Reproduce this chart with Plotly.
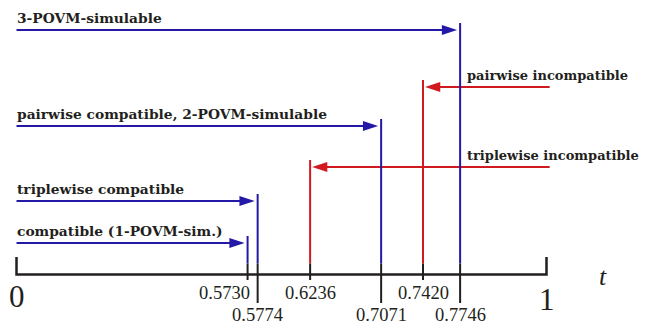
import plotly.graph_objects as go

# ---- data ----
threshold_labels = ["0.5730", "0.5774", "0.6236", "0.7071", "0.7420", "0.7746"]
# position of each threshold along the drawn (schematic) t axis, 0 -> 1
threshold_pos = [0.436, 0.455, 0.554, 0.688, 0.767, 0.837]
region_labels = [
    "compatible (1-POVM-sim.)",
    "triplewise compatible",
    "triplewise incompatible",
    "pairwise compatible, 2-POVM-simulable",
    "pairwise incompatible",
    "3-POVM-simulable",
]
region_kind = ["compatible", "compatible", "incompatible", "compatible", "incompatible", "compatible"]
axis_end_labels = ["0", "1"]
axis_end_values = [0, 1]
axis_title = "t"

# ---- layout / style ----
arrow_level = [31.5, 73.5, 107.5, 148.5, 187.5, 244.5]   # height of each arrow above the axis
label_row = [1, 2, 1, 2, 1, 2]                             # row of the tick label below the axis
label_anchor = ["right", "center", "center", "center", "center", "center"]
BLUE = "#2419a6"
RED = "#d11a20"
BLACK = "#231f20"
colors = {"compatible": BLUE, "incompatible": RED}
red_start = 1.006
red_label_x = 0.85
BLUE_FONT = dict(family="DejaVu Serif", size=13.8, color=BLACK, weight="bold")
RED_FONT = dict(family="DejaVu Serif", size=13, color=BLACK, weight="bold")

fig = go.Figure()

# main axis line and end ticks
fig.add_trace(go.Scatter(x=[axis_end_values[0], axis_end_values[0], axis_end_values[1], axis_end_values[1]],
                         y=[17.5, 0, 0, 17.5], mode="lines",
                         line=dict(color=BLACK, width=2.5), hoverinfo="skip"))

for lab, pos, reg, kind, lvl, row, anc in zip(threshold_labels, threshold_pos, region_labels,
                                              region_kind, arrow_level, label_row, label_anchor):
    c = colors[kind]
    # colored vertical line
    fig.add_trace(go.Scatter(x=[pos, pos], y=[11, lvl + 7], mode="lines",
                             line=dict(color=c, width=2), hoverinfo="skip"))
    # black tick part
    bottom = -5.5 if row == 1 else -28.5
    fig.add_trace(go.Scatter(x=[pos, pos], y=[bottom, 11], mode="lines",
                             line=dict(color=BLACK, width=2), hoverinfo="skip"))
    # arrow
    if kind == "compatible":
        xs = [axis_end_values[0], pos]
        sd = 3
    else:
        xs = [red_start, pos]
        sd = 2
    fig.add_trace(go.Scatter(x=xs, y=[lvl, lvl], mode="lines+markers",
                             line=dict(color=c, width=2),
                             marker=dict(symbol="arrow", size=[0, 16], color=c, opacity=1,
                                         angleref="previous", standoff=sd,
                                         line=dict(width=0)),
                             hoverinfo="skip"))
    # region label
    if kind == "compatible":
        fig.add_annotation(x=axis_end_values[0], y=lvl, text=reg, showarrow=False,
                           xanchor="left", yanchor="middle", yshift=12, xshift=-2,
                           font=BLUE_FONT)
    else:
        fig.add_annotation(x=red_label_x, y=lvl, text=reg, showarrow=False,
                           xanchor="left", yanchor="middle", yshift=12, xshift=-2,
                           font=RED_FONT)
    # number label
    fig.add_annotation(x=pos, y=0, text=lab, showarrow=False,
                       xanchor=anc, yanchor="middle",
                       xshift=4 if anc == "right" else 0,
                       yshift=-18.5 if row == 1 else -40,
                       font=dict(family="Liberation Serif", size=18.5, color=BLACK))

for v, t, ys in zip(axis_end_values, axis_end_labels, [-22, -25]):
    fig.add_annotation(x=v, y=0, text=t, showarrow=False, xanchor="center", yanchor="middle",
                       yshift=ys, font=dict(family="Liberation Serif", size=31, color=BLACK))

fig.add_annotation(x=1.107, y=0, text=f"<i>{axis_title}</i>", showarrow=False,
                   xanchor="center", yanchor="middle", yshift=-2,
                   font=dict(family="Liberation Serif", size=26, color=BLACK))

fig.update_layout(
    width=647, height=325,
    margin=dict(l=0, r=0, t=0, b=0),
    showlegend=False,
    plot_bgcolor="white", paper_bgcolor="white",
    xaxis=dict(range=[-16.5 / 530, (647 - 16.5) / 530], visible=False, fixedrange=True),
    yaxis=dict(range=[-50.5, 274.5], visible=False, fixedrange=True),
)

fig.write_html("out.html", config={"displayModeBar": False},
               post_script="document.body.style.margin='0';document.body.style.overflow='hidden';")
